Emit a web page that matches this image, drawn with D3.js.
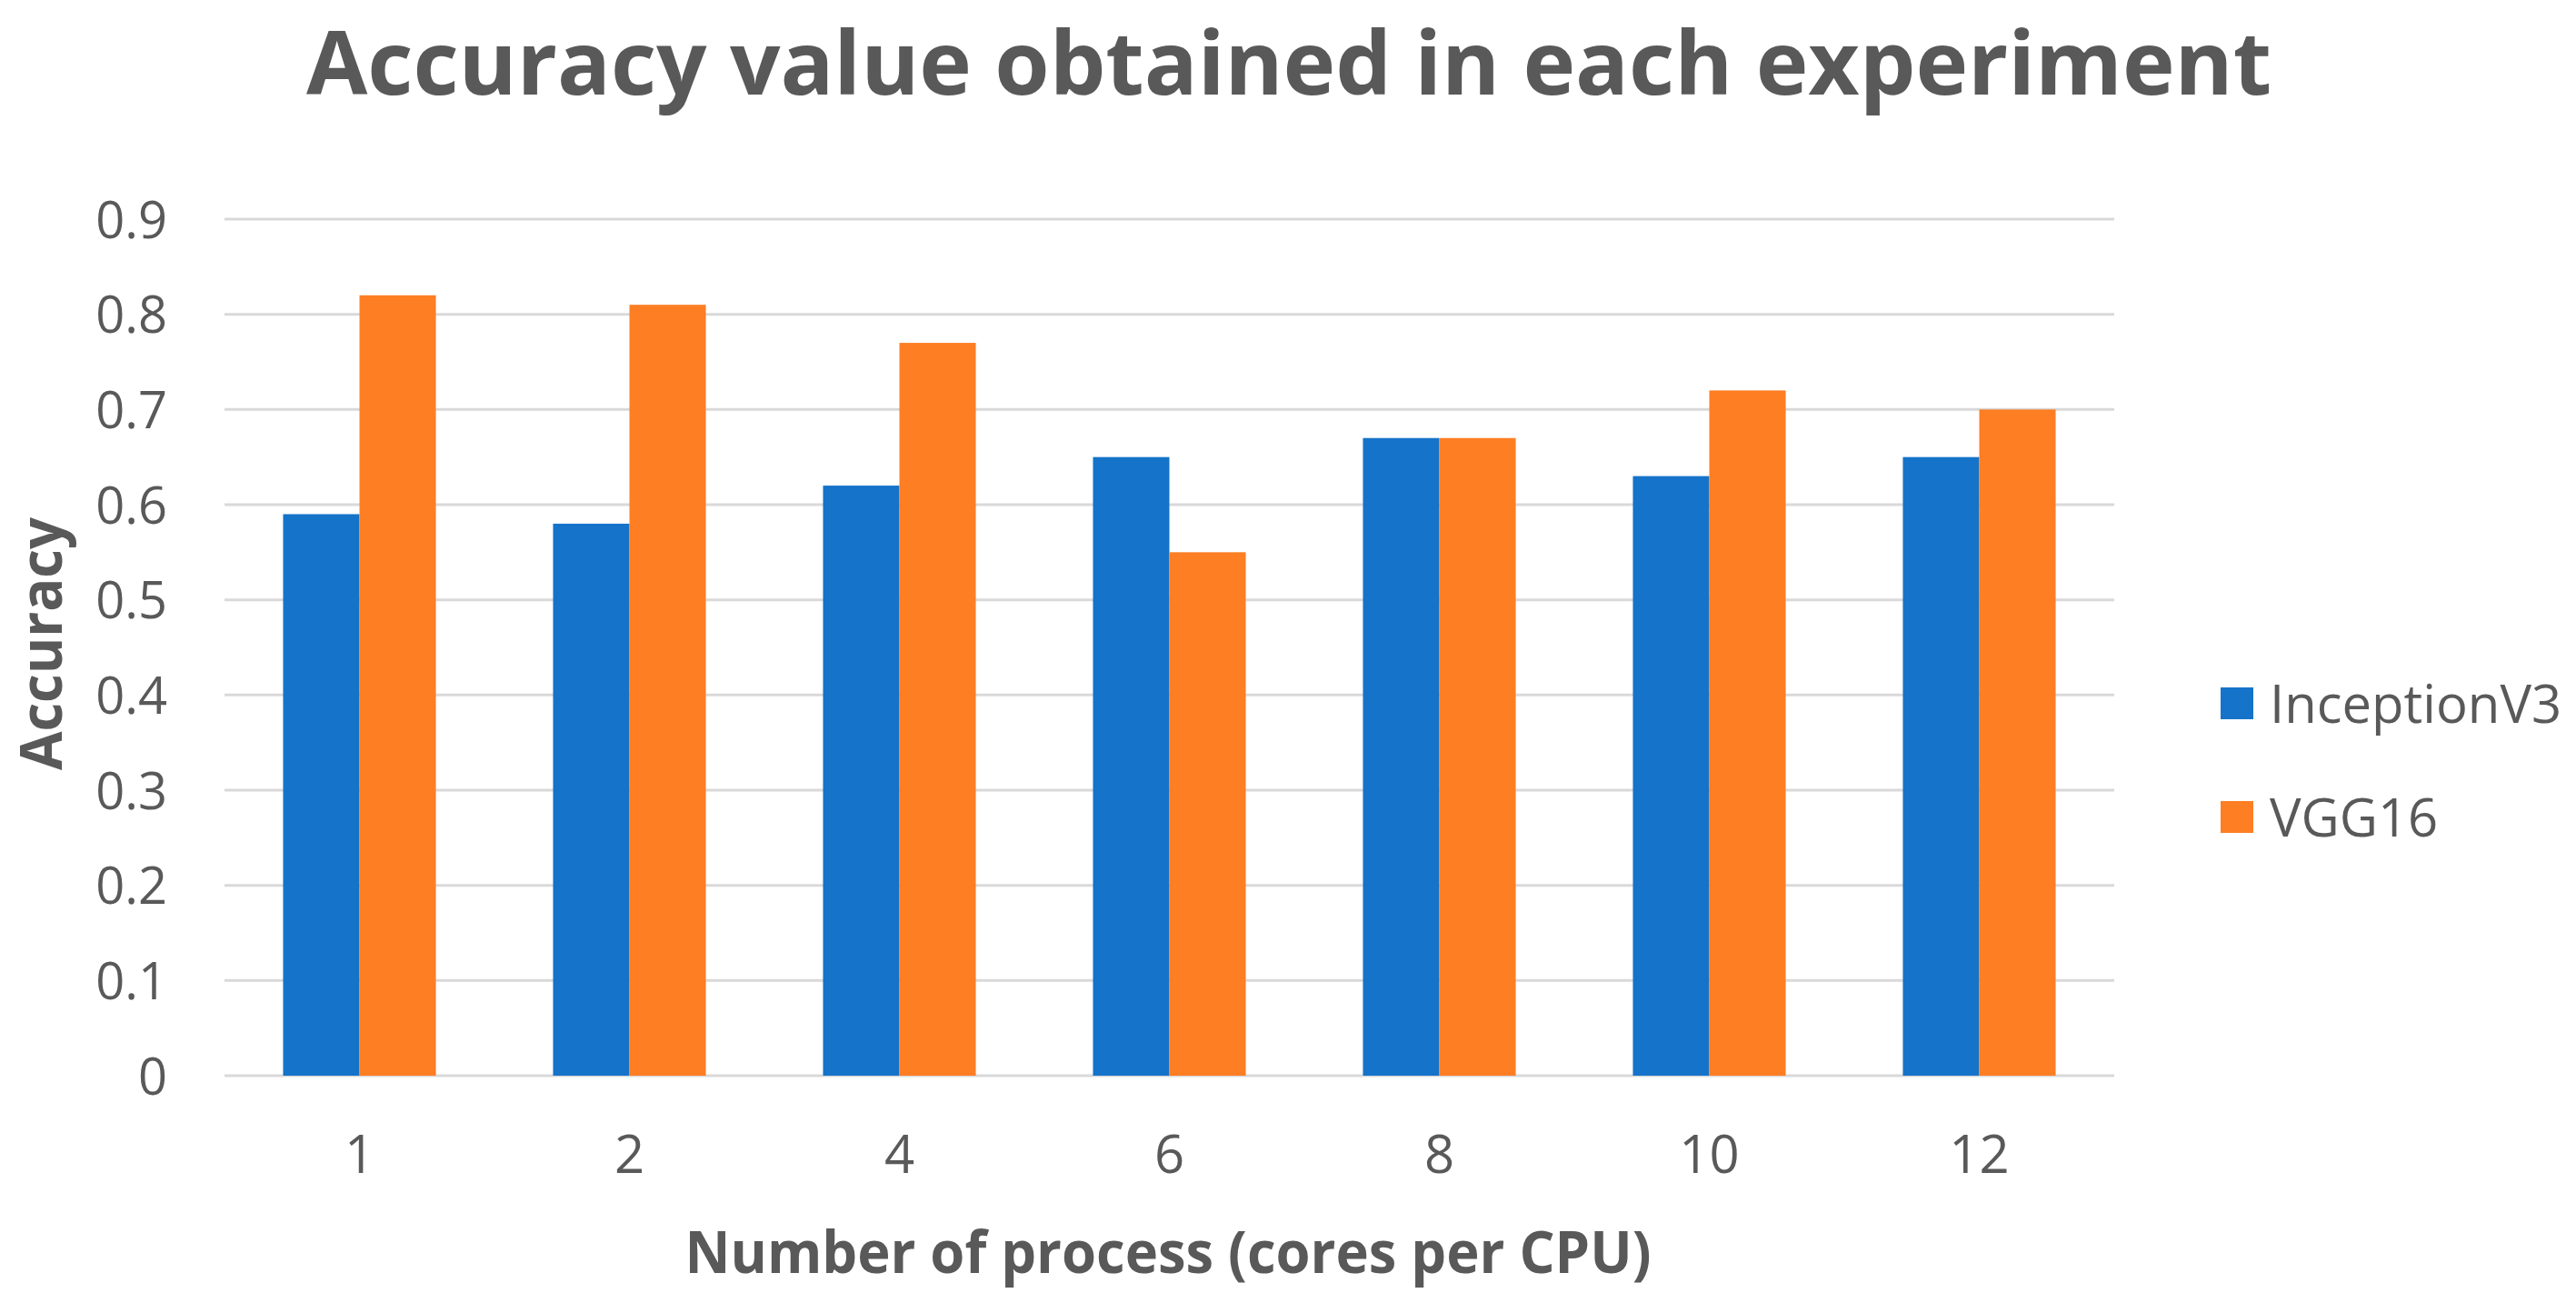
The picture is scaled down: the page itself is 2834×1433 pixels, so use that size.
<!DOCTYPE html>
<html>
<head>
<meta charset="utf-8">
<script src="https://cdn.jsdelivr.net/npm/d3@7"></script>
<style>
    body { margin: 0; background: #fff; }
    text { font-family: "Open Sans", "Noto Sans", sans-serif; fill: #595959; }
</style>
</head>
<body>
<div id="chart"></div>
<script>
const categories = ["1", "2", "4", "6", "8", "10", "12"]
const seriesNames = ["InceptionV3", "VGG16"]
const inceptionV3 = [0.59, 0.58, 0.62, 0.65, 0.67, 0.63, 0.65]
const vgg16 = [0.82, 0.81, 0.77, 0.55, 0.67, 0.72, 0.70]
const yTicks = [0, 0.1, 0.2, 0.3, 0.4, 0.5, 0.6, 0.7, 0.8, 0.9]
const yTickLabels = ["0", "0.1", "0.2", "0.3", "0.4", "0.5", "0.6", "0.7", "0.8", "0.9"]

const colors = ["#1573c9", "#fd7e23"]

function drawChart(){
    const width = 2834
    const height = 1433
    const plot = {left: 247, right: 2326, top: 241, bottom: 1183}

    const svg = d3.select("#chart").append("svg")
        .attr("width", width)
        .attr("height", height)

    const x0 = d3.scaleBand()
        .domain(categories)
        .range([plot.left, plot.right])
        .paddingInner(0.434)
        .paddingOuter(0.217)

    const x1 = d3.scaleBand()
        .domain(seriesNames)
        .range([0, x0.bandwidth()])

    const y = d3.scaleLinear()
        .domain([0, 0.9])
        .range([plot.bottom, plot.top])

    // gridlines
    svg.append("g")
        .selectAll("line")
        .data(yTicks)
        .enter()
        .append("line")
        .attr("x1", plot.left)
        .attr("x2", plot.right)
        .attr("y1", d => y(d))
        .attr("y2", d => y(d))
        .attr("stroke", "#d9d9d9")
        .attr("stroke-width", 3)

    // y axis labels
    const yAxis = d3.axisLeft(y)
        .tickValues(yTicks)
        .tickFormat((d, i) => yTickLabels[i])
        .tickSize(0)
        .tickPadding(0)
    const yg = svg.append("g")
        .attr("transform", "translate(184,0)")
        .call(yAxis)
    yg.select(".domain").remove()
    yg.selectAll("text")
        .attr("font-size", 56)
        .attr("dy", "0.36em")
        .style("font-family", "\"Open Sans\", sans-serif")
        .style("fill", "#595959")

    // bars
    const rows = categories.map((c, i) => ({cat: c, values: [inceptionV3[i], vgg16[i]]}))
    svg.append("g")
        .selectAll("g")
        .data(rows)
        .enter()
        .append("g")
        .attr("transform", d => "translate(" + x0(d.cat) + ",0)")
        .selectAll("rect")
        .data(d => d.values.map((v, j) => ({name: seriesNames[j], value: v, color: colors[j]})))
        .enter()
        .append("rect")
        .attr("x", d => x1(d.name))
        .attr("width", x1.bandwidth())
        .attr("y", d => y(d.value))
        .attr("height", d => y(0) - y(d.value))
        .attr("fill", d => d.color)

    // x axis labels
    const xAxis = d3.axisBottom(x0).tickSize(0).tickPadding(0)
    const xg = svg.append("g")
        .attr("transform", "translate(0,1290)")
        .call(xAxis)
    xg.select(".domain").remove()
    xg.selectAll("text")
        .attr("font-size", 58)
        .attr("dy", 0)
        .style("font-family", "\"Open Sans\", sans-serif")
        .style("fill", "#595959")

    // titles
    svg.append("text")
        .attr("x", 1418)
        .attr("y", 104)
        .attr("text-anchor", "middle")
        .attr("font-size", 96)
        .attr("font-weight", 700)
        .attr("textLength", 2162)
        .attr("lengthAdjust", "spacingAndGlyphs")
        .text("Accuracy value obtained in each experiment")

    svg.append("text")
        .attr("x", 1285)
        .attr("y", 1400)
        .attr("text-anchor", "middle")
        .attr("font-size", 64)
        .attr("font-weight", 700)
        .attr("textLength", 1063)
        .attr("lengthAdjust", "spacingAndGlyphs")
        .text("Number of process (cores per CPU)")

    svg.append("text")
        .attr("transform", "translate(68,708) rotate(-90)")
        .attr("text-anchor", "middle")
        .attr("font-size", 64)
        .attr("font-weight", 700)
        .attr("textLength", 278)
        .attr("lengthAdjust", "spacingAndGlyphs")
        .text("Accuracy")

    // legend
    const legend = svg.append("g")
        .selectAll("g")
        .data(seriesNames)
        .enter()
        .append("g")
        .attr("transform", (d, i) => "translate(2443," + (774 + i * 125) + ")")
    legend.append("rect")
        .attr("x", 0)
        .attr("y", -18)
        .attr("width", 36)
        .attr("height", 35)
        .attr("fill", (d, i) => colors[i])
    legend.append("text")
        .attr("x", 54)
        .attr("y", 21)
        .attr("font-size", 58)
        .text(d => d)
}

drawChart()
</script>
</body>
</html>
